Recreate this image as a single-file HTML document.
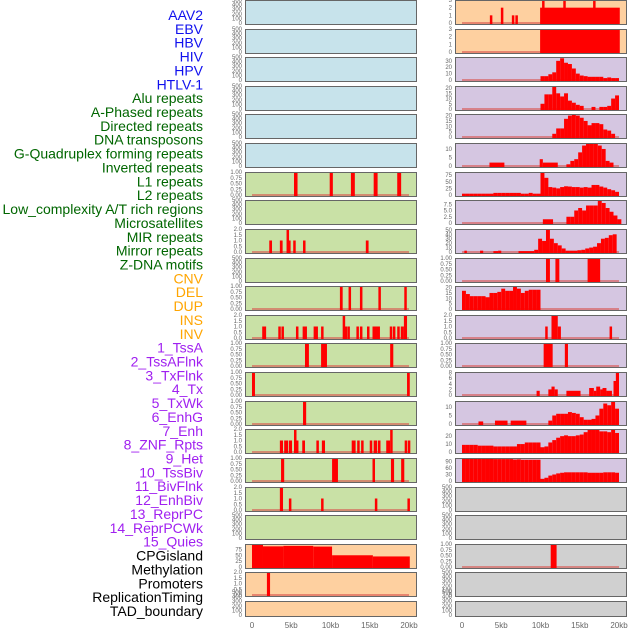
<!DOCTYPE html>
<html><head><meta charset="utf-8">
<style>
html,body{margin:0;padding:0;background:#fff;width:630px;height:630px;overflow:hidden}
svg{display:block}
.lab{font-family:"Liberation Sans",sans-serif;font-size:14px}
.tk{font-family:"Liberation Sans",sans-serif;font-size:6px;fill:#666}
.xt{font-family:"Liberation Sans",sans-serif;font-size:8px;fill:#666}
</style></head>
<body>
<svg id="chart" width="630" height="630" xmlns="http://www.w3.org/2000/svg"></svg>
<script>
const trackLabels=["AAV2","EBV","HBV","HIV","HPV","HTLV-1","Alu repeats","A-Phased repeats","Directed repeats","DNA transposons","G-Quadruplex forming repeats","Inverted repeats","L1 repeats","L2 repeats","Low_complexity A/T rich regions","Microsatellites","MIR repeats","Mirror repeats","Z-DNA motifs","CNV","DEL","DUP","INS","INV","1_TssA","2_TssAFlnk","3_TxFlnk","4_Tx","5_TxWk","6_EnhG","7_Enh","8_ZNF_Rpts","9_Het","10_TssBiv","11_BivFlnk","12_EnhBiv","13_ReprPC","14_ReprPCWk","15_Quies","CPGisland","Methylation","Promoters","ReplicationTiming","TAD_boundary"];
const labelColors=["#1010ee","#006600","#ffa500","#a020f0","#000"];
const labelGroups=[6,13,5,15,5];
const xTickLabels=["0","5kb","10kb","15kb","20kb"];
const xTickValues=[0,5,10,15,20];
const T500=["0","100","200","300","400","500"],T1=["0.00","0.25","0.50","0.75","1.00"],T2=["0.0","0.5","1.0","1.5","2.0"];
// segments: [startKb,endKb,value]
const segL6=[[5.35,5.8,1],[9.9,10.3,1],[12.6,13.1,1],[15.5,16,1],[18.5,19,1]];
const segL8=[[2.2,2.55,1],[3.55,3.9,1],[4.4,4.6,2],[4.6,4.75,1],[5.25,5.55,1],[6.5,6.8,1],[14.5,14.85,1]];
const segL10=[[11.2,11.55,1],[12.3,12.6,1],[13.75,14.05,1],[16.1,16.4,1],[19.4,19.7,1]];
const segL11=[[1.3,1.8,1],[3.35,3.65,1],[3.75,4.05,1],[5.6,5.9,1],[6.45,7.0,1],[7.85,8.4,1],[8.8,9.1,1],[11.55,11.8,2],[11.8,12.05,1],[12.15,12.45,1],[13.3,13.6,1],[13.75,14.05,1],[14.65,14.95,1],[15.35,16.3,1],[17.55,17.85,1],[17.95,18.25,1],[18.5,18.8,1],[18.95,19.35,1],[19.35,19.75,2]];
const segL12=[[6.75,7.25,1],[8.8,9.55,1],[17.6,18.0,1]];
const segL13=[[0,0.38,1],[19.75,20.1,1]];
const segL14=[[6.5,6.9,1]];
const segL15=[[3.55,3.95,1],[4.1,4.6,1],[4.7,5.1,1],[5.35,5.6,2],[5.6,5.9,1],[6.4,6.75,1],[8.2,8.5,1],[8.9,9.3,1],[12.7,13.2,1],[13.4,13.65,1],[13.9,14.15,1],[15.0,15.3,1],[15.5,15.95,1],[16.05,16.35,1],[17.1,17.6,1],[17.6,17.85,2],[19.45,19.75,1],[19.85,20.1,1]];
const segL16=[[3.7,4.1,1],[10.2,10.95,1],[15.35,15.65,1],[17.7,18.1,1],[19.0,19.4,1]];
const segL17=[[3.55,3.95,2],[4.7,5.0,1],[8.8,9.1,1],[15.65,15.95,1],[19.8,20.1,1]];
const segL19=[[0,1.4,97],[1.4,4,88],[4,7.8,90],[7.8,10.2,87],[10.2,15.4,50],[15.4,20.1,45]];
const segL20=[[1.9,2.3,2]];
const segR0=[[3.55,3.75,1],[4.95,5.15,2],[6.35,6.55,1],[6.8,7.0,1],[9.95,20.1,2],[10.2,10.4,3],[12.9,13.1,3],[16.7,16.9,3]];
const segR1=[[9.95,20.1,3]];
const binsR2=[6,6,9,12,30,34,27,25,18,10,7,6,5,5,5,5,3,4,3,3];
const binsR3=[5,14,14,22,15,12,15,8,6,4,3,0,0,2,0,2,2,3,10,13];
const binsR4=[3,8,8,17,20,21,20,18,15,11,13,13,12,7,6,3];
const segR5=[[3.5,5.4,2],[9.9,10.3,4],[10.3,12.2,2]];
const binsR5=[1,3,4,8,12,13,13,13,12,10,3,2];
const binsR6=[5,5,5,5,5,5,5,5,8,8,8,8,8,8,8,5,5,8,5,5,85,65,30,28,25,30,33,32,30,30,28,30,28,38,38,32,28,22,18,12];
const segR7=[[10.3,11.6,1.5]];
const binsR7=[2.5,2.5,5,6,5,7,7,7,9,8,6,4.5,3,1.5];
const segR8=[[0.3,0.6,3],[2.3,2.7,3],[4.0,4.6,2],[4.6,5.0,3],[7.2,9.2,2]];
const binsR8=[5,30,25,50,30,20,15,8,3,3,3,4,5,8,10,12,20,30,32,38,40];
const segR9=[[10.7,11.2,1],[11.9,12.4,1],[16.0,17.6,1]];
const binsR10=[17,14,12,12,12,12,11,15,15,16,19,17,17,21,19,15,17,18,18,18];
const segR11=[[10.6,10.9,1],[11.4,12.2,2],[12.2,12.6,1],[18.8,19.1,1]];
const segR12=[[10.4,11.55,1],[13.1,13.5,1]];
const segR13=[[9.5,9.9,1.5],[11.0,11.4,2],[11.4,11.8,3],[11.8,12.2,2],[13.3,15.1,1.5],[16.2,16.8,2.5],[16.8,17.1,1.5],[17.1,17.6,3],[17.6,17.9,2],[17.9,18.4,2.5],[18.4,19.1,1.5],[19.3,19.6,5],[19.6,20,8]];
const segR14=[[2.1,2.7,1.5],[4.2,5.8,2],[6.2,8.2,2]];
const binsR14=[2,5,6,6,6,7,6.5,6,4,2.5,2.5,3,5,9,12,11,13,9];
const binsR15=[9,9,9,9,8,8,8,8,7,7,7,7,7,7,10,10,12,12,12,12,6,7,12,15,18,20,21,20,20,21,22,25,28,28,28,26,26,25,28,24];
const binsR16=[105,105,104,104,103,102,102,102,101,101,101,101,101,99,100,98,98,98,98,98,10,15,25,30,35,38,40,40,40,40,40,40,38,38,38,38,40,40,40,38];
const segR19=[[11.3,12.05,1]];

const BLUE="#c7e3eb",GREEN="#c9e1a6",PEACH="#fed0a0",LAV="#d5c6e1",GREY="#d0d0d0";
const panels=[];
function P(col,row,bg,tk,ymax,seg,binStart,bins){panels.push({col,row,bg,tk,ymax,seg,binStart,bins});}
for(let r=0;r<6;r++)P(0,r,BLUE,T500,500);
P(0,6,GREEN,T1,1,segL6);P(0,7,GREEN,T500,500);P(0,8,GREEN,T2,2,segL8);P(0,9,GREEN,T500,500);
P(0,10,GREEN,T1,1,segL10);P(0,11,GREEN,T2,2,segL11);P(0,12,GREEN,T1,1,segL12);P(0,13,GREEN,T1,1,segL13);
P(0,14,GREEN,T1,1,segL14);P(0,15,GREEN,T2,2,segL15);P(0,16,GREEN,T1,1,segL16);P(0,17,GREEN,T2,2,segL17);
P(0,18,GREEN,T500,500);P(0,19,PEACH,["0","25","50","75"],98,segL19);P(0,20,PEACH,T2,2,segL20);P(0,21,PEACH,T500,500);
P(1,0,PEACH,["0","1","2","3"],3,segR0);P(1,1,PEACH,["0","1","2","3"],3,segR1);
P(1,2,LAV,["0","10","20","30"],36,null,10,binsR2);P(1,3,LAV,["0","5","10","15","20"],22,null,10,binsR3);
P(1,4,LAV,["0","5","10","15","20"],21.5,null,11.5,binsR4);P(1,5,LAV,["0","5","10"],13.5,segR5,13.3,binsR5);
P(1,6,LAV,["0","25","50","75"],87,null,0,binsR6);P(1,7,LAV,["0","2.5","5.0","7.5"],9.2,segR7,13.3,binsR7);
P(1,8,LAV,["0","10","20","30","40","50"],52,segR8,9.2,binsR8);P(1,9,LAV,T1,1,segR9);
P(1,10,LAV,["0","5","10","15","20"],21.5,null,0,binsR10);P(1,11,LAV,T2,2,segR11);P(1,12,LAV,T1,1,segR12);
P(1,13,LAV,["0","2","4","6","8"],8.2,segR13);P(1,14,LAV,["0","5","10"],13.5,segR14,11,binsR14);
P(1,15,LAV,["0","10","20"],29,null,0,binsR15);P(1,16,LAV,["0","30","60","90"],106,null,0,binsR16);
P(1,17,GREY,T500,500);P(1,18,GREY,T500,500);P(1,19,GREY,T1,1,segR19);P(1,20,GREY,T500,500);P(1,21,GREY,T500,500);

const svg=document.getElementById('chart');const NS="http://www.w3.org/2000/svg";
function mk(tag,attrs,parent){const e=document.createElementNS(NS,tag);for(const k in attrs)e.setAttribute(k,attrs[k]);(parent||svg).appendChild(e);return e;}
// labels
let li=0;
labelGroups.forEach((n,g)=>{for(let i=0;i<n;i++){const t=mk('text',{x:203,y:15+li*13.86+5,'text-anchor':'end',class:'lab',fill:labelColors[g]});t.textContent=trackLabels[li];

li++;}});
const colX=[245,455],PW=171;
function xS(col,kb){return colX[col]+7+kb*7.85;}
panels.forEach(p=>{
  const top=Math.round(p.row*28.62), h=p.row===21?16:25, bot=top+h-1;
  const g=mk('g',{});
  
  
  mk('rect',{x:colX[p.col]+0.5,y:top+0.5,width:PW,height:h-1,fill:p.bg,stroke:'#666','stroke-width':1},g);
  const yS=v=>bot-1-v/p.ymax*(23);
  const n=p.tk.length;
  p.tk.forEach((lab,i)=>{const v=parseFloat(lab);const t=mk('text',{x:colX[p.col]-3,y:yS(v)+2,'text-anchor':'end',class:'tk'},g);t.textContent=lab;
    
    });
  const hasData=p.seg||p.bins;
  if(hasData){const bl=mk('rect',{x:xS(p.col,0),y:bot-2,width:xS(p.col,20)-xS(p.col,0),height:2,fill:'#d9534f',opacity:0.6},g);
    }
  const segs=[];
  if(p.seg)p.seg.forEach(s=>segs.push(s));
  if(p.bins)p.bins.forEach((v,i)=>segs.push([p.binStart+i*0.5,p.binStart+(i+1)*0.5,v]));
  segs.forEach(s=>{if(s[2]<=0)return;const x1=xS(p.col,s[0]),x2=Math.max(xS(p.col,s[1]),x1+2.5);const y=Math.max(yS(s[2]),top+1);
    const r=mk('rect',{x:x1,y:y,width:x2-x1,height:bot-y,fill:'#ff0000'},g);
    
    });
});
[0,1].forEach(c=>{xTickValues.forEach((v,i)=>{const t=mk('text',{x:xS(c,v),y:628,'text-anchor':'middle',class:'xt'});t.textContent=xTickLabels[i];
  
  });});
</script>
</body></html>
